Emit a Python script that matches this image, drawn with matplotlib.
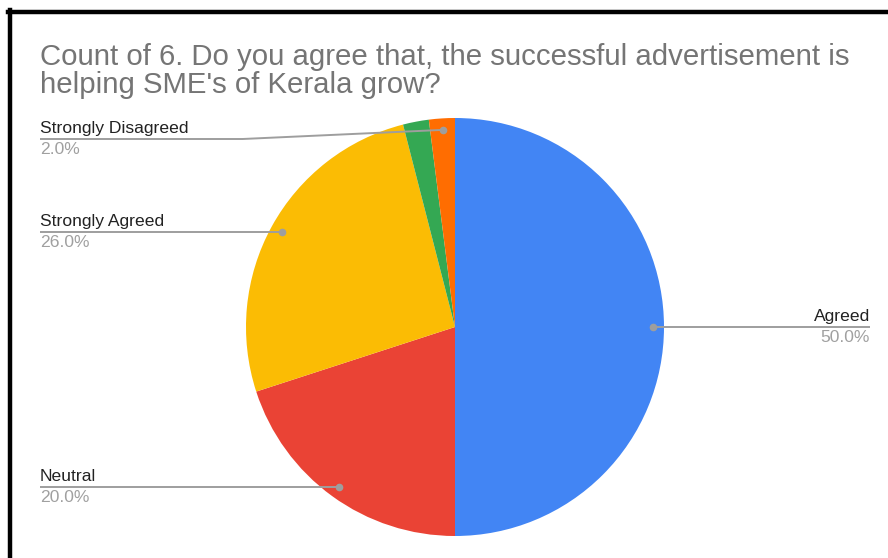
import numpy as np
import matplotlib.pyplot as plt
from matplotlib.lines import Line2D

plt.rcParams['font.family'] = ['Liberation Sans', 'DejaVu Sans']

# survey answers (counts of 50 responses)
labels = ["Agreed", "Neutral", "Strongly Agreed", "Disagreed", "Strongly Disagreed"]
counts = [25, 10, 13, 1, 1]
colors = ["#4285F4", "#EA4335", "#FBBC04", "#34A853", "#FF6D01"]
show_label = [True, True, True, False, True]

title = "Count of 6. Do you agree that, the successful advertisement is\nhelping SME's of Kerala grow?"

W, H = 888, 558
fig = plt.figure(figsize=(W / 100, H / 100), dpi=100)
ax = fig.add_axes([0, 0, 1, 1])

cx, cy, R = 455, H - 327, 209
wedges, _ = ax.pie(counts, colors=colors, startangle=90, counterclock=False,
                   center=(cx, cy), radius=R,
                   wedgeprops=dict(linewidth=0))
ax.set_xlim(0, W)
ax.set_ylim(0, H)
ax.set_aspect('equal')
ax.axis('off')

total = sum(counts)
left_x, right_x = 40, 870
top_limit = H - 139
line_col = "#9e9e9e"

for w, lab, n, show in zip(wedges, labels, counts, show_label):
    if not show:
        continue
    mid = np.deg2rad((w.theta1 + w.theta2) / 2)
    dx, dy = cx + 0.945 * R * np.cos(mid), cy + 0.945 * R * np.sin(mid)
    ly = min(dy, top_limit)
    pct = f"{100 * n / total:.1f}%"
    if np.cos(mid) >= 0:
        xs, ys = [dx, right_x], [dy, ly]
        tx, ha = right_x, 'right'
    else:
        if ly != dy:
            xs, ys = [left_x, dx - 200, dx], [ly, ly, dy]
        else:
            xs, ys = [left_x, dx], [ly, dy]
        tx, ha = left_x, 'left'
    ax.plot(xs, ys, color=line_col, lw=1.4, solid_capstyle='butt')
    ax.plot([dx], [dy], 'o', color=line_col, ms=5.5, mec='none')
    ax.text(tx, ly + 3, lab, ha=ha, va='bottom', fontsize=12.6, color="#222222")
    ax.text(tx, ly - 3, pct, ha=ha, va='top', fontsize=12.6, color="#a0a0a0")

fig.text(40 / W, 1 - 43 / H, title, ha='left', va='top', fontsize=21.2,
         color="#757575", linespacing=1.02)

# black frame on top and left edges
fig.add_artist(Line2D([8 / W, 1], [1 - 12 / H, 1 - 12 / H], color='black', lw=3.2,
                      transform=fig.transFigure))
fig.add_artist(Line2D([10 / W, 10 / W], [1 - 10 / H, 0], color='black', lw=3.2,
                      transform=fig.transFigure))

fig.savefig("out.png", dpi=100, facecolor='white')
